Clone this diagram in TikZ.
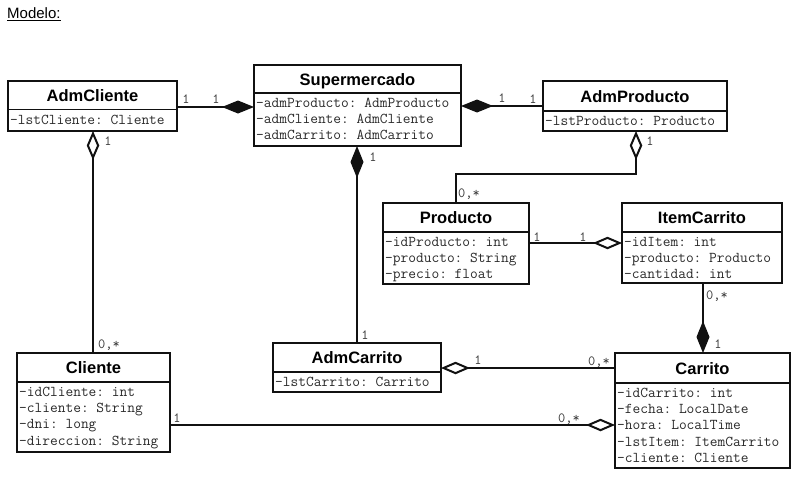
\documentclass[tikz,border=0pt]{standalone}
\usepackage{fontspec}
\setmainfont{Liberation Sans}
\usetikzlibrary{arrows.meta,fit}
\newcommand\umltitlefont{\fontsize{16.5}{18}\selectfont\bfseries}
\newcommand\umlattrfont{\ttfamily\fontsize{15}{16}\selectfont\frenchspacing}
\newcommand\umllabfont{\ttfamily\fontsize{14}{15}\selectfont\frenchspacing}
\definecolor{linecol}{HTML}{111111}
\definecolor{attrgray}{HTML}{2A2A2A}
\definecolor{labgray}{HTML}{3A3A3A}
\tikzset{
  classbox/.style={draw=linecol, line width=2pt, inner sep=0pt, outer sep=0pt, fill=white},
  classline/.style={draw=linecol, line width=1.6pt},
  titletext/.style={anchor=base, font=\umltitlefont, text=black, inner sep=0pt},
  attrtext/.style={anchor=base west, font=\umlattrfont, text=attrgray, inner sep=0pt},
  lab/.style={font=\umllabfont, text=labgray, inner sep=0pt, text height=8pt, text depth=0pt, anchor=center},
  conn/.style={draw=linecol, line width=2pt},
  compo/.style={conn, -{Diamond[length=32pt,width=13pt]}},
  aggr/.style={conn, -{Diamond[open,length=29pt,width=12.5pt,fill=white]}},
}
\newcommand\umlclass[8]{%
  \node[classbox, fit={(#2,#3) (#4,#6)}] (#1) {};
  \draw[classline] (#1.west |- 0,#5) -- (#1.east |- 0,#5);
  \node[titletext] (#1-t) at ({(#2+#4)/2},{(#3+#5)/2+6}) {#7};
  \foreach \a [count=\i] in {#8} {%
    \node[attrtext] (#1-a\i) at ({#2+2},{#5+14.5+16.2*(\i-1)}) {\a};}%
}
\begin{document}
\begin{tikzpicture}[x=1pt,y=-1pt]
\useasboundingbox[fill=white] (0,0) rectangle (796,479);

% heading
\node[anchor=base west, font=\fontsize{15}{18}\selectfont, inner sep=0pt] (heading) at (7,18.3) {Modelo:};
\draw[line width=1.2pt] ([yshift=-1.8pt]heading.base west) -- ([yshift=-1.8pt]heading.base east);

% classes
\umlclass{adc}{8}{81}{177}{109.5}{131}{AdmCliente}{-lstCliente: Cliente}
\umlclass{sup}{254}{65}{461}{93}{146}{Supermercado}{-admProducto: AdmProducto,-admCliente: AdmCliente,-admCarrito: AdmCarrito}
\umlclass{adp}{543}{81}{727}{111}{131}{AdmProducto}{-lstProducto: Producto}
\umlclass{pro}{383}{203}{529}{232}{284}{Producto}{-idProducto: int,-producto: String,-precio: float}
\umlclass{itc}{622}{203}{782}{232}{283}{ItemCarrito}{-idItem: int,-producto: Producto,-cantidad: int}
\umlclass{cli}{17}{353}{170}{382}{452}{Cliente}{-idCliente: int,-cliente: String,-dni: long,-direccion: String}
\umlclass{adca}{273}{343}{441}{372}{392}{AdmCarrito}{-lstCarrito: Carrito}
\umlclass{car}{615}{353}{790}{383}{468}{Carrito}{-idCarrito: int,-fecha: LocalDate,-hora: LocalTime,-lstItem: ItemCarrito,-cliente: Cliente}

% guide coordinates
\coordinate (h1) at (0,107);
\coordinate (h2) at (0,106);
\coordinate (v3) at (93,0);
\coordinate (v4) at (357,0);
\coordinate (v5a) at (456,0);
\coordinate (v5b) at (636,0);
\coordinate (h5) at (0,174);
\coordinate (h6) at (0,243);
\coordinate (v7) at (703,0);
\coordinate (h8) at (0,368);
\coordinate (h9) at (0,425);

% connectors
\draw[compo] (adc.east |- h1) -- (sup.west |- h1);
\draw[compo] (adp.west |- h2) -- (sup.east |- h2);
\draw[aggr] (cli.north -| v3) -- (adc.south -| v3);
\draw[compo] (adca.north -| v4) -- (sup.south -| v4);
\draw[aggr] (pro.north -| v5a) -- (v5a |- h5) -- (v5b |- h5) -- (adp.south -| v5b);
\draw[aggr] (pro.east |- h6) -- (itc.west |- h6);
\draw[compo] (itc.south -| v7) -- (car.north -| v7);
\draw[aggr] (car.west |- h8) -- (adca.east |- h8);
\draw[aggr] (cli.east |- h9) -- (car.west |- h9);

% multiplicities
\node[lab] (l1a) at (186,99) {1};
\node[lab] (l1b) at (216,99) {1};
\node[lab] (l2a) at (502,98) {1};
\node[lab] (l2b) at (533,99) {1};
\node[lab] (l3a) at (108,141) {1};
\node[lab] (l3b) at (109,344) {0,*};
\node[lab] (l4a) at (373,157) {1};
\node[lab] (l4b) at (365,335) {1};
\node[lab] (l5a) at (650,141) {1};
\node[lab] (l5b) at (469,193) {0,*};
\node[lab] (l6a) at (537,237) {1};
\node[lab] (l6b) at (583,237) {1};
\node[lab] (l7a) at (717,295) {0,*};
\node[lab] (l7b) at (718,344) {1};
\node[lab] (l8a) at (478,360) {1};
\node[lab] (l8b) at (599,361) {0,*};
\node[lab] (l9a) at (177,418) {1};
\node[lab] (l9b) at (569,418) {0,*};
\end{tikzpicture}
\end{document}
